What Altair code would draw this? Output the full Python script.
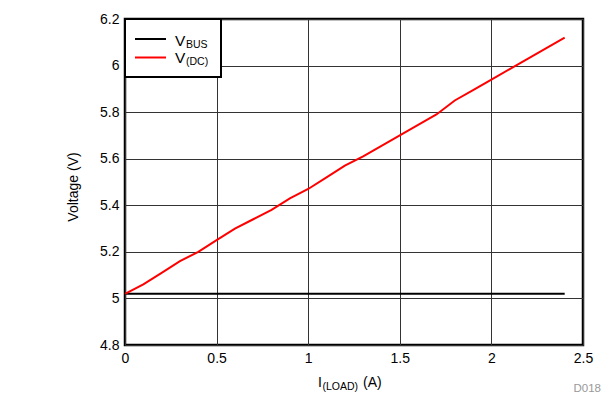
import altair as alt
import pandas as pd

load_a = [0.0, 0.1, 0.2, 0.3, 0.4, 0.5, 0.6, 0.7, 0.8, 0.9, 1.0, 1.1, 1.2,
          1.3, 1.4, 1.5, 1.6, 1.7, 1.8, 1.9, 2.0, 2.1, 2.2, 2.3, 2.4]
v_dc = [5.02, 5.06, 5.11, 5.16, 5.20, 5.25, 5.30, 5.34, 5.38, 5.43, 5.47, 5.52, 5.57,
        5.61, 5.655, 5.70, 5.745, 5.79, 5.85, 5.895, 5.94, 5.985, 6.03, 6.075, 6.12]
v_bus = [5.02, 5.02, 5.02, 5.02, 5.02, 5.02, 5.02, 5.02, 5.02, 5.02, 5.02, 5.02, 5.02,
         5.02, 5.02, 5.02, 5.02, 5.02, 5.02, 5.02, 5.02, 5.02, 5.02, 5.02, 5.02]
series_names = ["VBUS", "VDC"]
series_colors = ["#000000", "#ff0000"]
x_ticks = [0, 0.5, 1, 1.5, 2, 2.5]
y_ticks = [4.8, 5.0, 5.2, 5.4, 5.6, 5.8, 6.0, 6.2]

rows = []
for x, v in zip(load_a, v_bus):
    rows.append({"load": x, "volt": v, "series": "VBUS"})
for x, v in zip(load_a, v_dc):
    rows.append({"load": x, "volt": v, "series": "VDC"})
df = pd.DataFrame(rows)

FONT = "Liberation Sans"
W, H = 458, 326

lines = alt.Chart(df).mark_line(strokeWidth=2, clip=True).encode(
    x=alt.X("load:Q", scale=alt.Scale(domain=[0, 2.5], nice=False),
            axis=alt.Axis(values=x_ticks, format="~g", title=None, grid=True,
                          ticks=False, domain=False, labelPadding=6, labelFlush=False)),
    y=alt.Y("volt:Q", scale=alt.Scale(domain=[4.8, 6.2], nice=False, zero=False),
            axis=alt.Axis(values=y_ticks, format="~g", title=None, grid=True,
                          ticks=False, domain=False, labelPadding=6, labelFlush=False)),
    color=alt.Color("series:N", scale=alt.Scale(domain=series_names, range=series_colors),
                    legend=None),
    detail="series:N",
)

one = pd.DataFrame({"a": [0]})
base = alt.Chart(one)

legend_box = base.mark_rect(fill="white", stroke="black", strokeWidth=2).encode(
    x=alt.value(0), x2=alt.value(96), y=alt.value(0), y2=alt.value(58))
leg_black = base.mark_rule(color="black", strokeWidth=2).encode(
    x=alt.value(10), x2=alt.value(41), y=alt.value(20))
leg_red = base.mark_rule(color="red", strokeWidth=2).encode(
    x=alt.value(10), x2=alt.value(41), y=alt.value(38.5))

def txt(s, x, y, size, color="black", align="left", angle=None, baseline="alphabetic"):
    kw = dict(text=s, font=FONT, fontSize=size, color=color, align=align, baseline=baseline)
    if angle is not None:
        kw["angle"] = angle
    return base.mark_text(**kw).encode(x=alt.value(x), y=alt.value(y))

texts = [
    txt("V", 50, 27, 15.5),
    txt("BUS", 61, 28.5, 10.5),
    txt("V", 50, 44, 15.5),
    txt("(DC)", 61, 45.5, 10.5),
    txt("I", 193, 368, 14),
    txt("(LOAD)", 197.5, 371, 10.5),
    txt("(A)", 238, 368, 14),
    txt("Voltage (V)", -51, 168, 14, align="center", angle=270, baseline="middle"),
    txt("D018", 476, 373, 11.5, color="#999999", align="right"),
]

chart = alt.layer(lines, legend_box, leg_black, leg_red, *texts).properties(
    width=W, height=H,
    padding={"left": 117, "top": 11, "right": 19, "bottom": 53},
    autosize=alt.AutoSizeParams(type="none"),
    background="white",
).configure_view(
    stroke="black", strokeWidth=2.5
).configure_axis(
    labelFont=FONT, labelFontSize=14, labelColor="black",
    gridColor="#333333", gridWidth=1, gridOpacity=1,
)

chart.save("out.html", embed_options={"renderer": "svg", "actions": False})
